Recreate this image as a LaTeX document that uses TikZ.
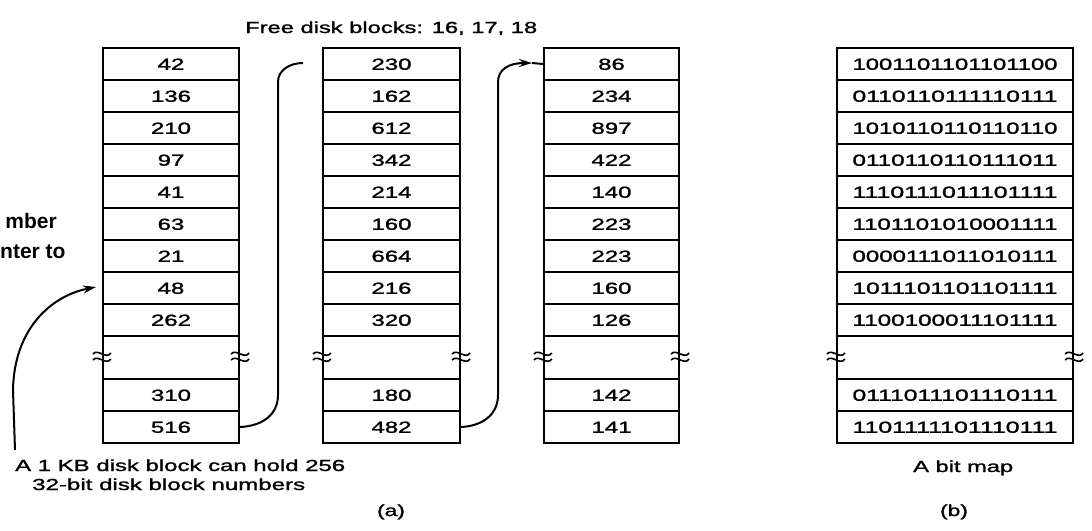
\documentclass[tikz,border=0pt]{standalone}
\usepackage{fontspec}
\setmainfont{Liberation Sans}
\newfontfamily\heavy[FakeBold=1.2]{Liberation Sans}
\usepackage{graphicx}
\usetikzlibrary{arrows.meta}
\newcommand{\wide}[1]{\scalebox{1.5}[1]{#1}}
\newcommand{\fitw}[2]{\resizebox{#1}{\height}{#2}}
\begin{document}
\begin{tikzpicture}[x=1pt,y=-1pt,
  cell/.style={draw, line width=2.2pt, rectangle, inner sep=0pt, minimum height=32pt,
    text height=11.5pt, text depth=0pt, font=\heavy\fontsize{16}{18}\selectfont},
  gapcell/.style={cell, minimum height=43pt},
  conn/.style={line width=2pt},
  tip/.style={-{Stealth[length=13pt,width=8pt]}},
  lbl/.style={inner sep=0pt, font=\heavy\fontsize{16}{18}\selectfont},
  cut/.style={inner sep=0pt, font=\bfseries\fontsize{21}{24}\selectfont},
  brk/.pic={
    \draw[line width=1.6pt] (-9,-2) .. controls (-4,-8) and (4,4) .. (9,-3);
    \draw[line width=1.6pt] (-9,4) .. controls (-4,-2) and (4,10) .. (9,3);
  }]
\useasboundingbox (0,0) rectangle (1092,530);
% column a1
\foreach \v [count=\i from 0] in {42,136,210,97,41,63,21,48,262}
  \node[cell, minimum width=136pt] (a\i) at (171,{64+32*\i}) {\wide{\v}};
\node[gapcell, minimum width=136pt] (agap) at (171,357.5) {};
\node[cell, minimum width=136pt] (a9) at (171,395) {\wide{310}};
\node[cell, minimum width=136pt] (a10) at (171,427) {\wide{516}};
% column a2
\foreach \v [count=\i from 0] in {230,162,612,342,214,160,664,216,320}
  \node[cell, minimum width=137pt] (b\i) at (391.5,{64+32*\i}) {\wide{\v}};
\node[gapcell, minimum width=137pt] (bgap) at (391.5,357.5) {};
\node[cell, minimum width=137pt] (b9) at (391.5,395) {\wide{180}};
\node[cell, minimum width=137pt] (b10) at (391.5,427) {\wide{482}};
% column a3
\foreach \v [count=\i from 0] in {86,234,897,422,140,223,223,160,126}
  \node[cell, minimum width=135pt] (c\i) at (611.5,{64+32*\i}) {\wide{\v}};
\node[gapcell, minimum width=135pt] (cgap) at (611.5,357.5) {};
\node[cell, minimum width=135pt] (c9) at (611.5,395) {\wide{142}};
\node[cell, minimum width=135pt] (c10) at (611.5,427) {\wide{141}};
% column b
\foreach \v [count=\i from 0] in {1001101101101100,0110110111110111,1010110110110110,0110110110111011,1110111011101111,1101101010001111,0000111011010111,1011101101101111,1100100011101111}
  \node[cell, minimum width=236pt] (d\i) at (955,{64+32*\i}) {\fitw{205pt}{\v}};
\node[gapcell, minimum width=236pt] (dgap) at (955,357.5) {};
\node[cell, minimum width=236pt] (d9) at (955,395) {\fitw{205pt}{0111011101110111}};
\node[cell, minimum width=236pt] (d10) at (955,427) {\fitw{205pt}{1101111101110111}};
% break marks
\foreach \n in {agap,bgap,cgap,dgap}{
  \pic at ([yshift=1.5pt]\n.west) {brk};
  \pic at ([yshift=1.5pt]\n.east) {brk};
}
% connectors
\coordinate (k1) at (278,395);
\coordinate (k2) at (278,82);
\coordinate (k3) at (303,63);
\draw[conn] (a10.east) .. controls (262,426) and (278,415) .. (k1) -- (k2)
  .. controls (278,70) and (290,63) .. (k3);
\coordinate (k4) at (498,395);
\coordinate (k5) at (498,82);
\coordinate (k7) at (532,63);
\draw[conn,tip] (b10.east) .. controls (482,426) and (498,415) .. (k4) -- (k5)
  .. controls (498,70) and (508,63) .. (k7);
\draw[conn] (k7) -- (c0.west);
\coordinate (k8) at (15,450);
\coordinate (k9) at (13,390);
\coordinate (k10) at (96,287);
\draw[conn,tip] (k8) -- (k9) .. controls (14,330) and (50,296) .. (k10);
% texts
\node[lbl, anchor=base west] (title) at (245,33) {\fitw{292pt}{Free disk blocks: 16, 17, 18}};
\node[lbl, anchor=base west] (cap1) at (15,471) {\fitw{330pt}{A 1 KB disk block can hold 256}};
\node[lbl, anchor=base west] (cap2) at (32,490) {\fitw{273pt}{32-bit disk block numbers}};
\node[lbl, anchor=base west] (bm) at (913,472) {\fitw{100pt}{A bit map}};
\node[lbl, anchor=base] (la) at (391,516) {\fitw{28pt}{(a)}};
\node[lbl, anchor=base] (lb) at (954,516) {\fitw{28pt}{(b)}};
\node[cut, anchor=base east] (t1) at (57,228) {mber};
\node[cut, anchor=base west] (t2) at (0,258) {nter to};
\end{tikzpicture}
\end{document}
